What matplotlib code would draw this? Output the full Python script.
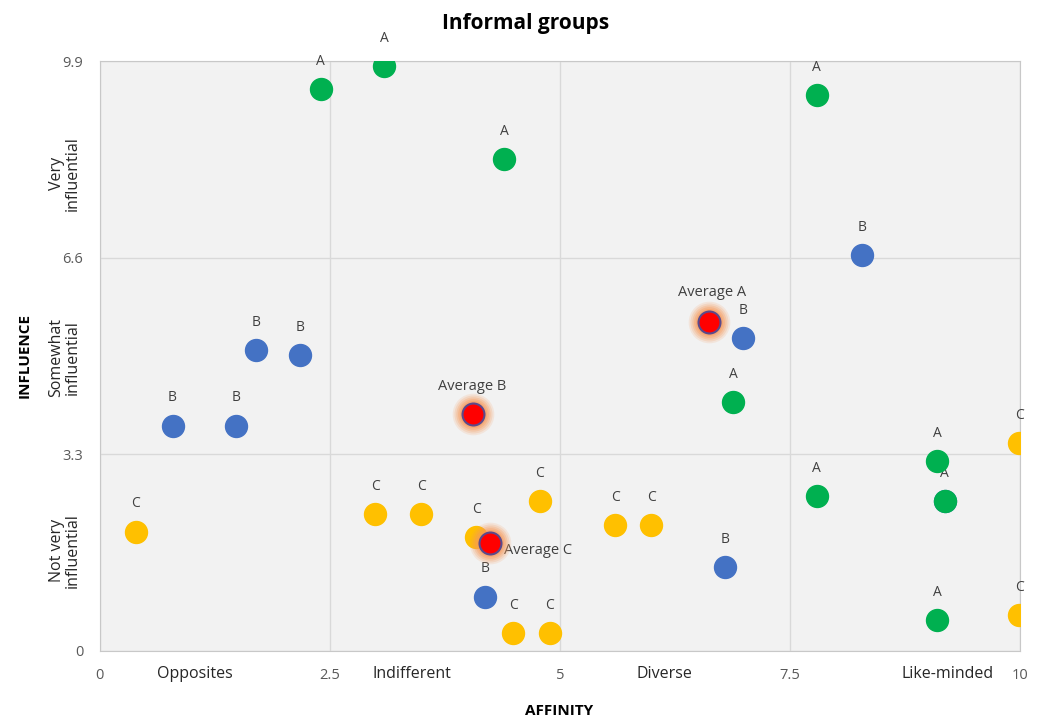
import numpy as np
import matplotlib.pyplot as plt

plt.rcParams['font.family'] = ['Open Sans', 'DejaVu Sans']

# data to plot
a_x = [2.40, 3.09, 4.39, 7.79, 6.88, 7.79, 9.10, 9.18, 9.10]
a_y = [9.43, 9.82, 8.26, 9.33, 4.18, 2.60, 3.19, 2.52, 0.52]
b_x = [8.28, 6.99, 1.70, 2.18, 0.79, 1.48, 6.79, 4.18, 9.18]
b_y = [6.64, 5.25, 5.05, 4.97, 3.78, 3.78, 1.41, 0.91, 2.52]
c_x = [0.39, 2.99, 3.49, 4.78, 4.09, 5.60, 5.99, 4.49, 4.89, 9.99, 9.99]
c_y = [2.00, 2.30, 2.30, 2.52, 1.91, 2.11, 2.11, 0.30, 0.30, 3.49, 0.60]
avg_names = ['Average A', 'Average B', 'Average C']
avg_x = [6.62, 4.05, 4.24]
avg_y = [5.52, 3.98, 1.81]

x_ticks = [0, 2.5, 5, 7.5, 10]
y_ticks = [0, 3.3, 6.6, 9.9]
x_zones = ['Opposites', 'Indifferent', 'Diverse', 'Like-minded']
x_zone_pos = [1.03, 3.39, 6.13, 9.21]
y_zones = ['Not very\ninfluential', 'Somewhat\ninfluential', 'Very\ninfluential']
y_zone_pos = [1.68, 4.92, 8.02]

fig = plt.figure(figsize=(10.4, 7.2), dpi=100)
ax = fig.add_axes([0.096, 0.096, 0.885, 0.819])
ax.set_facecolor('#f2f2f2')
for s in ax.spines.values():
    s.set_color('#c8c8c8')
ax.set_xlim(0, 10)
ax.set_ylim(0, 9.9)
ax.set_xticks(x_ticks)
ax.set_yticks(y_ticks)
ax.set_xticklabels(['0', '2.5', '5', '7.5', '10'])
ax.set_yticklabels(['0', '3.3', '6.6', '9.9'])
ax.tick_params(length=0, colors='#595959', labelsize=10.5)
ax.tick_params(axis='x', pad=12)
ax.tick_params(axis='y', pad=12)
ax.grid(True, color='#d9d9d9', linewidth=1)
ax.set_axisbelow(True)

lbl = dict(textcoords='offset points', ha='center', va='center', fontsize=10, color='#404040')
ms = 250

ax.scatter(b_x, b_y, s=ms, color='#4472c4', zorder=3)
for x, y in zip(b_x[:-1], b_y[:-1]):
    ax.annotate('B', (x, y), xytext=(0, 20), **lbl)
ax.scatter(a_x, a_y, s=ms, color='#00b050', zorder=4)
for x, y in zip(a_x, a_y):
    ax.annotate('A', (x, y), xytext=(0, 20), **lbl)
ax.scatter(c_x, c_y, s=ms, color='#ffc000', zorder=3)
for x, y in zip(c_x, c_y):
    ax.annotate('C', (x, y), xytext=(0, 20), **lbl)

# glow behind averages
for k, a in zip([900, 750, 610, 490, 380], [0.15, 0.2, 0.26, 0.33, 0.45]):
    ax.scatter(avg_x, avg_y, s=k, color='#f79a5a', alpha=a, linewidths=0, zorder=5)
ax.scatter(avg_x, avg_y, s=ms, color='#ff0000', edgecolors='#5b4a8b', linewidths=1.5, zorder=6)
albl = dict(lbl, fontsize=10.5)
ax.annotate(avg_names[0], (avg_x[0], avg_y[0]), xytext=(2, 21), **albl)
ax.annotate(avg_names[1], (avg_x[1], avg_y[1]), xytext=(0, 20), **albl)
ax.annotate(avg_names[2], (avg_x[2], avg_y[2]), xytext=(10, -5),
            textcoords='offset points', ha='left', va='center', fontsize=10.5, color='#404040')

# zone labels
for t, p in zip(x_zones, x_zone_pos):
    ax.text(p, -0.39, t, ha='center', va='center', fontsize=11.5, color='#262626')
for t, p in zip(y_zones, y_zone_pos):
    ax.text(-0.38, p, t, ha='center', va='center', rotation=90,
            fontsize=11.5, color='#262626', linespacing=1.05)

fig.text(0.538, 0.012, 'AFFINITY', ha='center', va='center', fontsize=11, fontweight='bold')
fig.text(0.024, 0.506, 'INFLUENCE', ha='center', va='center', rotation=90,
         fontsize=11, fontweight='bold')
fig.text(0.505, 0.968, 'Informal groups', ha='center', va='center', fontsize=15, fontweight='bold')

plt.savefig('out.png')
